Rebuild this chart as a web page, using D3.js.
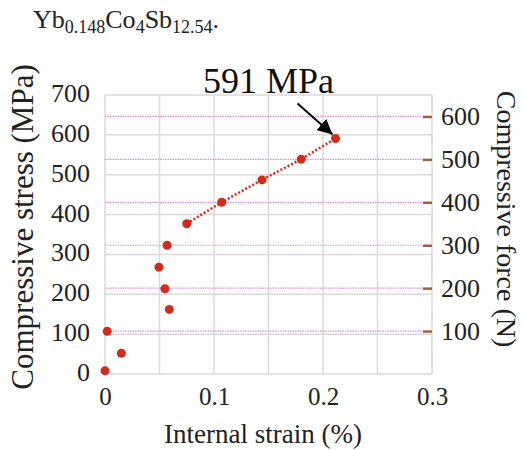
<!DOCTYPE html>
<html>
<head>
<meta charset="utf-8">
<script src="https://cdn.jsdelivr.net/npm/d3@7"></script>
<style>
  body { margin: 0; background: #fff; }
  svg text { font-family: "Liberation Serif", "Times New Roman", serif !important; fill: #222; }
</style>
</head>
<body>
<div id="chart"></div>
<script>
// data
const strain = [0, 0.015, 0.002, 0.059, 0.055, 0.0495, 0.057, 0.075, 0.107, 0.144, 0.18, 0.2115]
const stress = [8, 52, 107, 162, 214, 268, 323, 377, 431, 487, 539, 591]
const lineFrom = 7 // dotted line joins the last points
const xTicks = [0, 0.1, 0.2, 0.3]
const xGrid = [0, 0.05, 0.1, 0.15, 0.2, 0.25, 0.3]
const stressTicks = [0, 100, 200, 300, 400, 500, 600, 700]
const forceTicks = [100, 200, 300, 400, 500, 600]

const width = 524, height = 450
const plotLeft = 105, plotRight = 432, plotTop = 95, plotBottom = 374
const serif = '"Liberation Serif", "Times New Roman", serif'

const svg = d3.select('#chart').append('svg')
  .attr('width', width)
  .attr('height', height)
  .attr('font-family', serif)

const x = d3.scaleLinear().domain([0, 0.3]).range([plotLeft, plotRight])
const y = d3.scaleLinear().domain([0, 700]).range([plotBottom, plotTop])
const yForce = d3.scaleLinear().domain([0, 650]).range([plotBottom, plotTop])

// title
const title = svg.append('text').attr('x', 33).attr('y', 28).style('font-size', '26px')
title.append('tspan').text('Yb')
title.append('tspan').text('0.148').style('font-size', '18px').attr('dy', 5)
title.append('tspan').text('Co').attr('dy', -5)
title.append('tspan').text('4').style('font-size', '18px').attr('dy', 5)
title.append('tspan').text('Sb').attr('dy', -5)
title.append('tspan').text('12.54').style('font-size', '18px').attr('dy', 5)
title.append('tspan').text('.').attr('dy', -5)

// grid
svg.append('g').selectAll('line').data(xGrid).enter().append('line')
  .attr('x1', d => x(d)).attr('x2', d => x(d))
  .attr('y1', plotTop).attr('y2', plotBottom)
  .attr('stroke', '#dadada').attr('stroke-width', 1.5)
svg.append('g').selectAll('line').data(stressTicks).enter().append('line')
  .attr('x1', plotLeft).attr('x2', plotRight)
  .attr('y1', d => y(d)).attr('y2', d => y(d))
  .attr('stroke', '#dadada').attr('stroke-width', 1.5)
svg.append('g').selectAll('line').data(forceTicks).enter().append('line')
  .attr('x1', plotLeft).attr('x2', plotRight - 9)
  .attr('y1', d => yForce(d)).attr('y2', d => yForce(d))
  .attr('stroke', '#e58ae5').attr('stroke-width', 1.2).attr('stroke-dasharray', '1.5,1')

// axes
const xAxis = d3.axisBottom(x).tickValues(xTicks).tickSize(0).tickPadding(13).tickFormat(d => d)
svg.append('g').attr('transform', `translate(0,${plotBottom})`).call(xAxis)
  .attr('font-family', serif)
  .call(g => g.select('.domain').remove())
  .selectAll('text').style('font-size', '25px')

const yAxis = d3.axisLeft(y).tickValues(stressTicks).tickSize(0).tickPadding(15)
svg.append('g').attr('transform', `translate(${plotLeft},0)`).call(yAxis)
  .attr('font-family', serif)
  .call(g => g.select('.domain').remove())
  .selectAll('text').style('font-size', '26px').attr('dy', '0.25em')

const yAxisR = d3.axisRight(yForce).tickValues(forceTicks).tickSize(0).tickPadding(9)
svg.append('g').attr('transform', `translate(${plotRight},0)`).call(yAxisR)
  .attr('font-family', serif)
  .call(g => g.select('.domain').remove())
  .call(g => g.selectAll('.tick').append('line')
    .attr('x1', -9).attr('x2', 0).attr('stroke', '#a0603a').attr('stroke-width', 2.5))
  .selectAll('text').style('font-size', '26px')

// labels
svg.append('text').attr('transform', 'translate(263,443)')
  .attr('text-anchor', 'middle').style('font-size', '27px').text('Internal strain (%)')
svg.append('text').attr('transform', 'translate(33,227) rotate(-90)')
  .attr('text-anchor', 'middle').style('font-size', '31px').text('Compressive stress (MPa)')
svg.append('text').attr('transform', 'translate(497,219) rotate(90)')
  .attr('text-anchor', 'middle').style('font-size', '28px').text('Compressive force (N)')

// dotted line and points
const pts = strain.map((s, i) => [s, stress[i]])
const line = d3.line().x(d => x(d[0])).y(d => y(d[1]))
svg.append('path').datum(pts.slice(lineFrom))
  .attr('d', line).attr('fill', 'none')
  .attr('stroke', '#d42a1a').attr('stroke-width', 2.5).attr('stroke-dasharray', '2,2')

svg.append('g').selectAll('circle').data(pts).enter().append('circle')
  .attr('cx', d => x(d[0])).attr('cy', d => y(d[1])).attr('r', 4.5)
  .attr('fill', '#d42a1a')

// annotation
const last = pts[pts.length - 1]
svg.append('defs').append('marker').attr('id', 'arrow')
  .attr('viewBox', '0 0 10 10').attr('refX', 10).attr('refY', 5)
  .attr('markerWidth', 7.5).attr('markerHeight', 7.5).attr('orient', 'auto')
  .attr('markerUnits', 'strokeWidth')
  .append('path').attr('d', 'M0,0L10,5L0,10z').attr('fill', '#000')
svg.append('line')
  .attr('x1', x(last[0]) - 38).attr('y1', y(last[1]) - 35)
  .attr('x2', x(last[0]) - 3).attr('y2', y(last[1]) - 4)
  .attr('stroke', '#000').attr('stroke-width', 2).attr('marker-end', 'url(#arrow)')
svg.append('text').attr('x', 203).attr('y', 93).style('font-size', '36px').style('fill', '#111')
  .text(last[1] + ' MPa')
</script>
</body>
</html>
